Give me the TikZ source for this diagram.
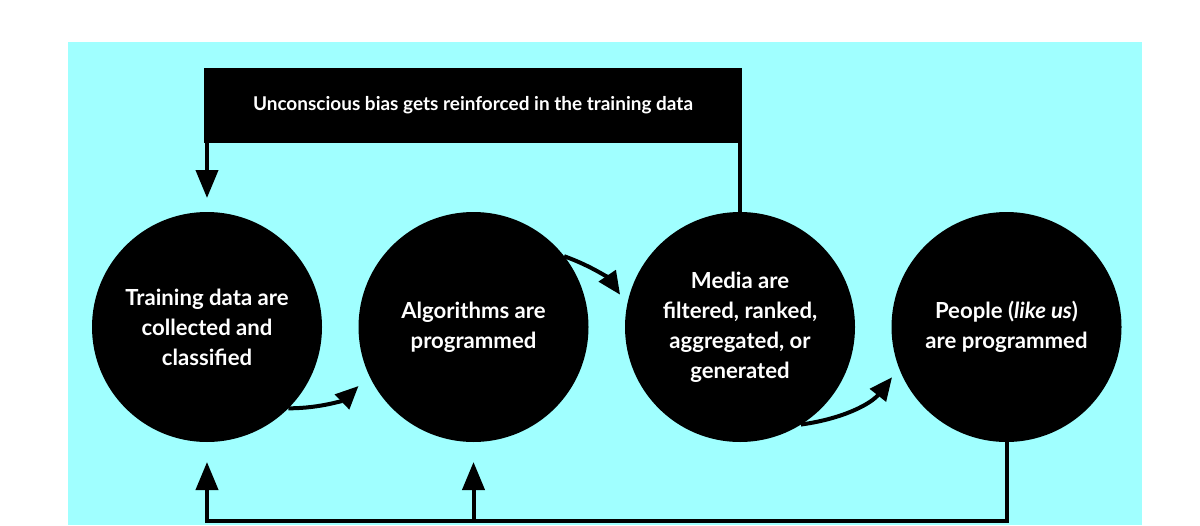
\documentclass[tikz,border=0pt]{standalone}
\usepackage{fontspec}
\setmainfont{Lato}
\usetikzlibrary{arrows.meta,positioning}
\definecolor{panelcyan}{RGB}{160,255,255}

\begin{document}
\begin{tikzpicture}[
    -{Triangle[width=4.4mm,length=5.6mm]},
    line width=0.8mm,
    node distance=5.33cm,
    stage node/.style={circle,fill=black,text=white,minimum size=4.6cm,inner sep=0pt,outer sep=0pt,align=center,font=\bfseries\fontsize{12.6}{17}\selectfont},
    banner node/.style={rectangle,fill=black,text=white,minimum width=10.76cm,minimum height=1.5cm,inner sep=0pt,outer sep=0pt,font=\bfseries\fontsize{10.8}{13}\selectfont},
    loop arrow/.style={-{Triangle[width=4mm,length=4.6mm]}}]

  \useasboundingbox (0,0) rectangle (24,10.5);
  \fill[-,panelcyan] (1.36,0) rectangle (22.84,9.66);

  \node[stage node] (Training) at (4.14,3.96) {Training data are\\collected and\\classified};
  \node[stage node] (Algorithms) [right of=Training] {Algorithms are\\programmed};
  \node[stage node] (Media) [right of=Algorithms] {Media are\\filtered, ranked,\\aggregated, or\\generated};
  \node[stage node] (People) [right of=Media] {People (\textit{like us})\\are programmed};
  \node[banner node] (BiasBox) at (9.46,8.39) {Unconscious bias gets reinforced in the training data};

  \coordinate (Bottom) at (4.14,0.08);

  % feedback from the banner
  \draw[shorten >=2.8mm] (BiasBox.south -| Training) -- (Training.north);
  \draw[-] (BiasBox.south -| Media) -- (Media.north);

  % feedback along the bottom
  \draw[shorten >=4mm] (People.south) |- (Bottom) -- (Training.south);
  \draw[shorten >=4mm] (Algorithms |- Bottom) -- (Algorithms.south);

  % steps of the loop
  \draw[loop arrow,shorten >=3mm] (Training.-45) to[bend right=22] (Algorithms.205);
  \draw[loop arrow,shorten >=2.5mm] (Algorithms.38) to[bend left=18] (Media.169);
  \draw[loop arrow,shorten >=2.3mm] (Media.-58) to[bend right=22] (People.201);

\end{tikzpicture}
\end{document}
